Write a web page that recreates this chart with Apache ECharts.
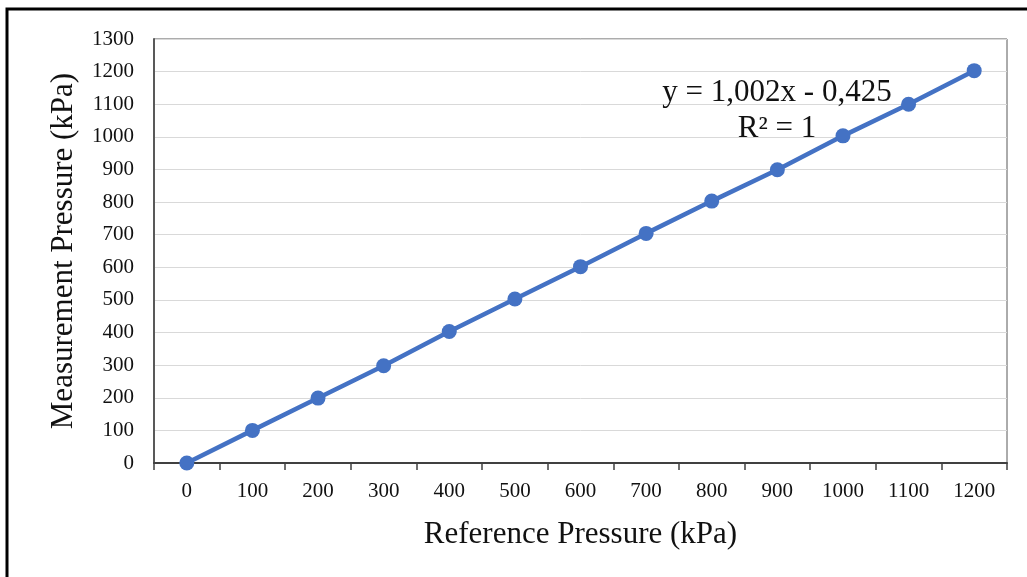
<!DOCTYPE html>
<html>
<head>
<meta charset="utf-8">
<script src="https://cdn.jsdelivr.net/npm/echarts@6/dist/echarts.min.js"></script>
<style>
  html, body { margin: 0; padding: 0; background: #fff; }
  #chart { width: 1027px; height: 577px; }
</style>
</head>
<body>
<div id="chart"></div>
<script>
// Reference pressure (kPa) categories and the measured pressure at each
const referencePressure = ['0', '100', '200', '300', '400', '500', '600', '700', '800', '900', '1000', '1100', '1200'];
const measuredPressure = [0, 100, 199, 298, 403, 503, 602, 704, 803, 899, 1003, 1100, 1203];
const trendEquation = 'y = 1,002x - 0,425';
const rSquared = 'R² = 1';

const serif = '"Liberation Serif", "DejaVu Serif", serif';
const textColor = '#111';
const chart = echarts.init(document.getElementById('chart'));

chart.setOption({
  animation: false,
  backgroundColor: '#fff',
  grid: { left: 154, right: 20, top: 39, bottom: 114, show: true, borderColor: '#595959', borderWidth: 1 },
  xAxis: {
    type: 'category',
    data: referencePressure,
    boundaryGap: true,
    name: 'Reference Pressure (kPa)',
    nameLocation: 'middle',
    nameGap: 56,
    nameTextStyle: { fontFamily: serif, fontSize: 31, color: textColor },
    axisLine: { lineStyle: { color: '#404040', width: 2 } },
    axisTick: { show: true, alignWithLabel: false, length: 7, lineStyle: { color: '#404040', width: 1.5 } },
    axisLabel: { fontFamily: serif, fontSize: 21, color: textColor, margin: 18 },
    splitLine: { show: false }
  },
  yAxis: {
    type: 'value',
    min: 0,
    max: 1300,
    interval: 100,
    name: 'Measurement Pressure (kPa)',
    nameLocation: 'middle',
    nameGap: 75,
    nameTextStyle: { fontFamily: serif, fontSize: 31, color: textColor },
    axisLine: { show: true, lineStyle: { color: '#595959', width: 2 } },
    axisTick: { show: false },
    axisLabel: { fontFamily: serif, fontSize: 21, color: textColor, margin: 20, formatter: v => String(v) },
    splitLine: { show: true, lineStyle: { color: '#d9d9d9', width: 1 } }
  },
  series: [{
    type: 'line',
    data: measuredPressure,
    symbol: 'circle',
    symbolSize: 15,
    lineStyle: { color: '#4472C4', width: 4.5 },
    itemStyle: { color: '#4472C4' },
    z: 5
  }],
  graphic: [
    {
      type: 'rect',
      shape: { x: 7, y: 9, width: 1040, height: 600 },
      style: { fill: 'none', stroke: '#000', lineWidth: 3 },
      silent: true
    },
    {
      type: 'text',
      x: 777, y: 93,
      style: { text: trendEquation, font: '31px ' + serif, fill: textColor, textAlign: 'center', textVerticalAlign: 'middle' },
      z: 10
    },
    {
      type: 'text',
      x: 777, y: 129,
      style: { text: rSquared, font: '31px ' + serif, fill: textColor, textAlign: 'center', textVerticalAlign: 'middle' },
      z: 10
    }
  ]
});
</script>
</body>
</html>
